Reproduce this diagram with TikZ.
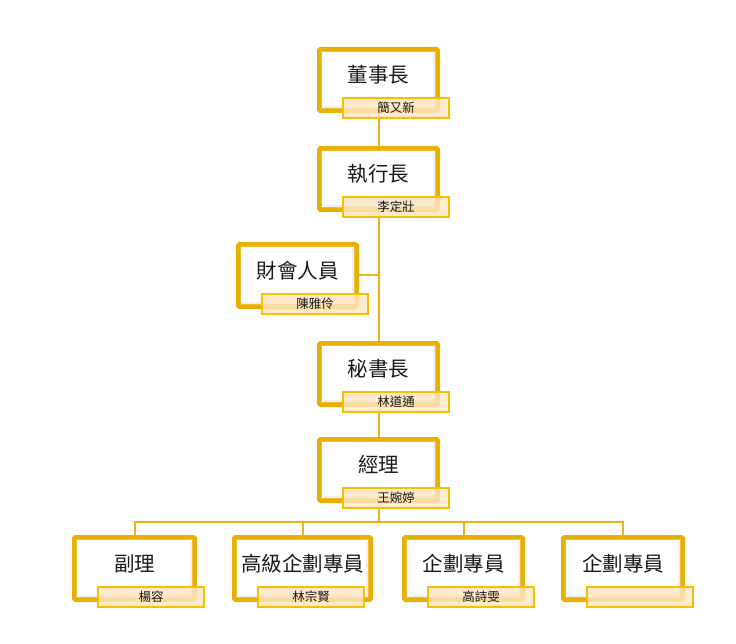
\documentclass[tikz,border=0pt]{standalone}
\usepackage{fontspec}
\setmainfont{Noto Sans CJK TC}
\usetikzlibrary{backgrounds}
\definecolor{gold}{HTML}{E8B000}
\definecolor{goldthin}{HTML}{EBBE3C}
\definecolor{lblline}{HTML}{F7BF00}
\definecolor{lblfill}{HTML}{FFE6C2}
\definecolor{conn}{HTML}{EBB414}
\definecolor{txt}{HTML}{1A1A1A}
\definecolor{shadowgray}{HTML}{EFEFEF}
\tikzset{
  orgbox/.style={draw=gold, line width=4pt, fill=white, rounded corners=1.5pt, inner sep=0pt},
  innerline/.style={draw=goldthin, line width=1pt},
  innershadow/.style={draw=shadowgray, line width=1.5pt},
  titletext/.style={font=\fontsize{20.5}{23}\selectfont, text=txt, inner sep=0pt},
  lblbox/.style={draw=lblline, line width=2pt, fill=lblfill, fill opacity=0.82, text opacity=1, inner sep=0pt, minimum width=106pt, minimum height=20pt, font=\fontsize{12.5}{14}\selectfont, text=txt},
  connector/.style={draw=conn, line width=2pt}
}
% #1 name, #2 x1, #3 y1, #4 x2, #5 y2, #6 title, #7 label text
\newcommand\orgunit[7]{%
  \node[orgbox, minimum width={#4-#2-4pt}, minimum height={#5-#3-4pt}] (#1) at ({(#2+#4)/2},{(#3+#5)/2}) {};
  \draw[innershadow] ([shift={(6.5,-6)}]#1.south west) -- ([shift={(-6,-6)}]#1.south east) -- ([shift={(-6,6.5)}]#1.north east);
  \draw[innerline] ([shift={(4.2,4.2)}]#1.north west) rectangle ([shift={(-4.2,-4.2)}]#1.south east);
  \node[titletext] (#1t) at ({(#2+#4)/2},{(#3+#5)/2-5}) {#6};
  \node[lblbox] (#1l) at ({#2+25+54},{#5-5}) {#7};
}
\begin{document}
\begin{tikzpicture}[x=1pt, y=-1pt]
\useasboundingbox (0,0) rectangle (736,644);
\orgunit{chair}{317}{47}{440}{113}{董事長}{簡又新}
\orgunit{ceo}{317}{146}{440}{212}{執行長}{李定壯}
\orgunit{fin}{236}{242}{359}{309}{財會人員}{陳雅伶}
\orgunit{sec}{317}{341}{440}{407}{秘書長}{林道通}
\orgunit{mgr}{317}{437}{440}{503}{經理}{王婉婷}
\orgunit{d1}{72}{535}{197}{602}{副理}{楊容}
\orgunit{d2}{232}{535}{373}{602}{高級企劃專員}{林宗賢}
\orgunit{d3}{402}{535}{525}{602}{企劃專員}{高詩雯}
\orgunit{d4}{561}{535}{685}{602}{企劃專員}{}
\coordinate (bus) at (mgr.south |- 0,522);
\begin{scope}[on background layer]
  \draw[connector] (chair.south) -- (ceo.north);
  \draw[connector] (ceo.south) -- (sec.north);
  \draw[connector] (fin.east) -- (fin.east -| ceo.south);
  \draw[connector] (sec.south) -- (mgr.north);
  \draw[connector] (mgr.south) -- (bus);
  \draw[connector] (d1.north) |- (bus) -| (d4.north);
  \draw[connector] (d2.north) -- (d2.north |- bus);
  \draw[connector] (d3.north) -- (d3.north |- bus);
\end{scope}
\end{tikzpicture}
\end{document}
